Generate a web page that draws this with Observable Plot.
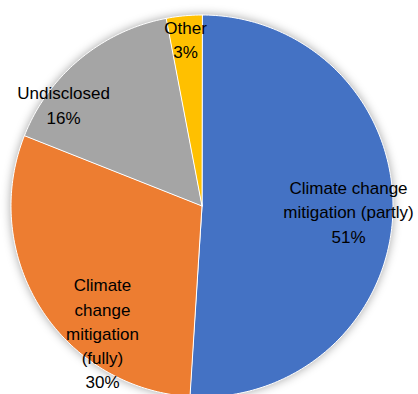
<!DOCTYPE html>
<html>
<head>
<meta charset="utf-8">
<script src="https://cdn.jsdelivr.net/npm/d3@7"></script>
<script src="https://cdn.jsdelivr.net/npm/@observablehq/plot@0.6"></script>
<style>
  html, body { margin: 0; padding: 0; background: #fff; }
  #chart svg { display: block; }
  #chart g[aria-label="line"] { filter: drop-shadow(0 0 5px rgba(0,0,0,0.35)); }
</style>
</head>
<body>
<div id="chart"></div>
<script>
// ---- data ----
const categories = ["Climate change mitigation (partly)", "Climate change mitigation (fully)", "Undisclosed", "Other"];
const labelTexts = ["Climate change\nmitigation (partly)", "Climate\nchange\nmitigation\n(fully)", "Undisclosed", "Other"];
const shares = [51, 30, 16, 3];
const colors = ["#4472C4", "#ED7D31", "#A5A5A5", "#FFC000"];

// ---- layout (label centres in units of the radius) ----
const labelPos = [[0.767, -0.024], [-0.521, -0.66], [-0.725, 0.536], [-0.086, 0.878]];

const W = 418, H = 394, cx = 201.5, cy = 205.5, R = 191;

const arcs = d3.pie().sort(null).value(d => d)(shares);
const slicePts = [];
arcs.forEach((a, i) => {
  slicePts.push({cat: categories[i], x: 0, y: 0});
  const n = Math.max(4, Math.ceil((a.endAngle - a.startAngle) / (Math.PI / 180)));
  for (let k = 0; k <= n; k++) {
    const t = a.startAngle + (a.endAngle - a.startAngle) * k / n;
    slicePts.push({cat: categories[i], x: Math.sin(t), y: Math.cos(t)});
  }
});
const labels = categories.map((c, i) => ({
  text: labelTexts[i] + "\n" + shares[i] + "%",
  x: labelPos[i][0], y: labelPos[i][1]
}));

const chart = Plot.plot({
  width: W, height: H,
  marginLeft: cx - R, marginRight: W - (cx + R),
  marginTop: cy - R, marginBottom: H - (cy + R),
  x: {domain: [-1, 1], axis: null},
  y: {domain: [-1, 1], axis: null},
  color: {domain: categories, range: colors},
  style: {background: "#fff", overflow: "visible"},
  marks: [
    Plot.line(slicePts, {x: "x", y: "y", z: "cat", fill: "cat", stroke: "#fff", strokeWidth: 1, curve: "linear-closed"}),
    Plot.text(labels, {x: "x", y: "y", text: "text", fontSize: 17, lineHeight: 1.43, fill: "#000",
      fontFamily: "Liberation Sans, Arial, sans-serif", textAnchor: "middle", lineAnchor: "middle"})
  ]
});
document.getElementById("chart").appendChild(chart);
</script>
</body>
</html>
